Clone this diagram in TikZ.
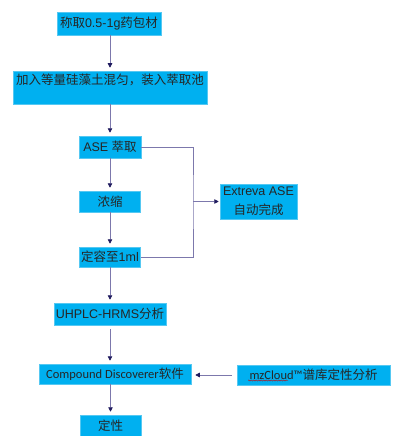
\documentclass[tikz,border=0pt]{standalone}
\usepackage{fontspec}
\setmainfont{Liberation Sans}
\newfontfamily\cjkfont{Noto Sans CJK SC}
\newfontfamily\calfont{Carlito}
\usetikzlibrary{positioning,arrows.meta,decorations.pathmorphing}
\definecolor{boxblue}{HTML}{00B0F0}
\definecolor{boxrim}{HTML}{55C8F2}
\definecolor{linegray}{HTML}{7C78AC}
\definecolor{tipnavy}{HTML}{1F1A5E}
\newcommand{\zh}[1]{{\cjkfont #1}}

\begin{document}
\begin{tikzpicture}[x=1pt,y=-1pt,
  box/.style={fill=boxblue,draw=boxrim,line width=0.5pt,inner sep=0pt,text=black!85,
    font=\fontsize{12.5}{19}\selectfont},
  arr/.style={draw=linegray,line width=0.8pt,-{Triangle[length=4.5pt,width=4.5pt,color=tipnavy]},shorten >=3pt}]
  \useasboundingbox (0,0) rectangle (404,436);
  % main column
  \node[box,minimum width=104pt,minimum height=23pt] (weigh) at (109,23.5) {\zh{称取}0.5-1g\zh{药包材}};
  \node[box,minimum width=194pt,minimum height=33pt,text height=13pt,text depth=20pt] (mix) at (110,87.5)
    {\zh{加入等量硅藻土混匀，装入萃取池}};
  \node[box,minimum width=62pt,minimum height=22pt] (ase) at (110,147) {ASE \zh{萃取}};
  \node[box,minimum width=61pt,minimum height=21pt] (conc) at (110,201.5) {\zh{浓缩}};
  \node[box,minimum width=61pt,minimum height=20pt] (vol) at (110,257) {\zh{定容至}1ml};
  \node[box,minimum width=112pt,minimum height=22pt] (hrms) at (110,314) {UHPLC-HRMS\zh{分析}};
  \node[box,minimum width=152pt,minimum height=20pt] (cd) at (115,374) {\calfont Compound Discoverer\zh{软件}};
  \node[box,minimum width=61pt,minimum height=21pt] (qual) at (110.5,425.5) {\zh{定性}};
  % side boxes
  \node[box,minimum width=77pt,minimum height=35pt,align=center] (ext) at (258.5,201.5) {Extreva ASE\\\zh{自动完成}};
  \node[box,minimum width=153pt,minimum height=20pt] (mz) at (313.5,375) {{\calfont mzCloud™}\zh{谱库定性分析}};
  \draw[red!80!black,line width=0.4pt,decorate,decoration={snake,amplitude=0.6pt,segment length=2.5pt}]
    (248,380.5) -- (288,380.5);
  % connectors
  \draw[arr] (mix.north |- weigh.south) -- (mix.north);
  \draw[arr] (mix.south -| ase.north) -- (ase.north);
  \draw[arr] (ase.south) -- (conc.north);
  \draw[arr] (conc.south) -- (vol.north);
  \draw[arr] (vol.south) -- (hrms.north);
  \draw[arr,shorten <=4pt] (hrms.south) -- (hrms.south |- cd.north);
  \draw[arr] (qual.north |- cd.south) -- (qual.north);
  \draw[arr,shorten <=5pt,shorten >=4pt] (mz.west) -- (mz.west -| cd.east);
  \coordinate (jn) at (193,201.5);
  \draw[linegray,line width=0.8pt] (ase.east) -| (jn) |- (vol.east);
  \draw[arr,shorten >=1pt] (jn) -- (ext.west);
\end{tikzpicture}
\end{document}
